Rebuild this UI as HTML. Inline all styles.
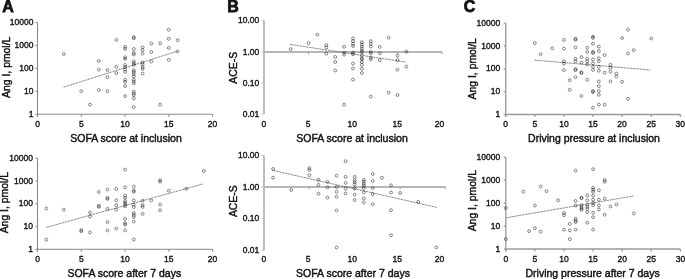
<!DOCTYPE html>
<html><head><meta charset="utf-8"><style>
html,body{margin:0;padding:0;background:#fff;width:685px;height:279px;overflow:hidden}
svg{display:block;will-change:transform;filter:blur(0.3px)}
text{font-family:"Liberation Sans", sans-serif;fill:#111}
circle{fill:none;stroke:#000;stroke-opacity:0.58;stroke-width:0.8}
</style></head><body>
<svg width="685" height="279" viewBox="0 0 685 279">
<line x1="37.50" y1="22.60" x2="37.50" y2="116.80" stroke="#8a8a8a" stroke-width="1.1"/>
<line x1="37.50" y1="114.30" x2="212.60" y2="114.30" stroke="#8a8a8a" stroke-width="1.1"/>
<line x1="35.50" y1="22.60" x2="37.50" y2="22.60" stroke="#8a8a8a" stroke-width="1.1"/>
<line x1="35.50" y1="45.52" x2="37.50" y2="45.52" stroke="#8a8a8a" stroke-width="1.1"/>
<line x1="35.50" y1="68.45" x2="37.50" y2="68.45" stroke="#8a8a8a" stroke-width="1.1"/>
<line x1="35.50" y1="91.38" x2="37.50" y2="91.38" stroke="#8a8a8a" stroke-width="1.1"/>
<line x1="35.50" y1="114.30" x2="37.50" y2="114.30" stroke="#8a8a8a" stroke-width="1.1"/>
<line x1="37.50" y1="114.30" x2="37.50" y2="116.80" stroke="#8a8a8a" stroke-width="1.1"/>
<line x1="81.28" y1="114.30" x2="81.28" y2="116.80" stroke="#8a8a8a" stroke-width="1.1"/>
<line x1="125.05" y1="114.30" x2="125.05" y2="116.80" stroke="#8a8a8a" stroke-width="1.1"/>
<line x1="168.83" y1="114.30" x2="168.83" y2="116.80" stroke="#8a8a8a" stroke-width="1.1"/>
<line x1="212.60" y1="114.30" x2="212.60" y2="116.80" stroke="#8a8a8a" stroke-width="1.1"/>
<text x="33.50" y="25.20" font-size="8.5" text-anchor="end" font-weight="normal" stroke="#111" stroke-width="0.36">10000</text>
<text x="33.50" y="48.12" font-size="8.5" text-anchor="end" font-weight="normal" stroke="#111" stroke-width="0.36">1000</text>
<text x="33.50" y="71.05" font-size="8.5" text-anchor="end" font-weight="normal" stroke="#111" stroke-width="0.36">100</text>
<text x="33.50" y="93.97" font-size="8.5" text-anchor="end" font-weight="normal" stroke="#111" stroke-width="0.36">10</text>
<text x="33.50" y="116.90" font-size="8.5" text-anchor="end" font-weight="normal" stroke="#111" stroke-width="0.36">1</text>
<text x="37.50" y="127.10" font-size="8.5" text-anchor="middle" font-weight="normal" stroke="#111" stroke-width="0.36">0</text>
<text x="81.28" y="127.10" font-size="8.5" text-anchor="middle" font-weight="normal" stroke="#111" stroke-width="0.36">5</text>
<text x="125.05" y="127.10" font-size="8.5" text-anchor="middle" font-weight="normal" stroke="#111" stroke-width="0.36">10</text>
<text x="168.83" y="127.10" font-size="8.5" text-anchor="middle" font-weight="normal" stroke="#111" stroke-width="0.36">15</text>
<text x="212.60" y="127.10" font-size="8.5" text-anchor="middle" font-weight="normal" stroke="#111" stroke-width="0.36">20</text>
<text x="126.00" y="142.20" font-size="10.5" text-anchor="middle" font-weight="normal" stroke="#111" stroke-width="0.42">SOFA score at inclusion</text>
<text transform="translate(9.8,67.30) rotate(-90)" font-size="10.4" text-anchor="middle" stroke="#111" stroke-width="0.42">Ang I, pmol/L</text>
<line x1="37.50" y1="158.20" x2="37.50" y2="251.80" stroke="#8a8a8a" stroke-width="1.1"/>
<line x1="37.50" y1="249.30" x2="212.60" y2="249.30" stroke="#8a8a8a" stroke-width="1.1"/>
<line x1="35.50" y1="158.20" x2="37.50" y2="158.20" stroke="#8a8a8a" stroke-width="1.1"/>
<line x1="35.50" y1="180.97" x2="37.50" y2="180.97" stroke="#8a8a8a" stroke-width="1.1"/>
<line x1="35.50" y1="203.75" x2="37.50" y2="203.75" stroke="#8a8a8a" stroke-width="1.1"/>
<line x1="35.50" y1="226.53" x2="37.50" y2="226.53" stroke="#8a8a8a" stroke-width="1.1"/>
<line x1="35.50" y1="249.30" x2="37.50" y2="249.30" stroke="#8a8a8a" stroke-width="1.1"/>
<line x1="37.50" y1="249.30" x2="37.50" y2="251.80" stroke="#8a8a8a" stroke-width="1.1"/>
<line x1="81.28" y1="249.30" x2="81.28" y2="251.80" stroke="#8a8a8a" stroke-width="1.1"/>
<line x1="125.05" y1="249.30" x2="125.05" y2="251.80" stroke="#8a8a8a" stroke-width="1.1"/>
<line x1="168.83" y1="249.30" x2="168.83" y2="251.80" stroke="#8a8a8a" stroke-width="1.1"/>
<line x1="212.60" y1="249.30" x2="212.60" y2="251.80" stroke="#8a8a8a" stroke-width="1.1"/>
<text x="33.00" y="160.80" font-size="8.5" text-anchor="end" font-weight="normal" stroke="#111" stroke-width="0.36">10000</text>
<text x="33.00" y="183.57" font-size="8.5" text-anchor="end" font-weight="normal" stroke="#111" stroke-width="0.36">1000</text>
<text x="33.00" y="206.35" font-size="8.5" text-anchor="end" font-weight="normal" stroke="#111" stroke-width="0.36">100</text>
<text x="33.00" y="229.12" font-size="8.5" text-anchor="end" font-weight="normal" stroke="#111" stroke-width="0.36">10</text>
<text x="33.00" y="251.90" font-size="8.5" text-anchor="end" font-weight="normal" stroke="#111" stroke-width="0.36">1</text>
<text x="37.50" y="261.80" font-size="8.5" text-anchor="middle" font-weight="normal" stroke="#111" stroke-width="0.36">0</text>
<text x="81.28" y="261.80" font-size="8.5" text-anchor="middle" font-weight="normal" stroke="#111" stroke-width="0.36">5</text>
<text x="125.05" y="261.80" font-size="8.5" text-anchor="middle" font-weight="normal" stroke="#111" stroke-width="0.36">10</text>
<text x="168.83" y="261.80" font-size="8.5" text-anchor="middle" font-weight="normal" stroke="#111" stroke-width="0.36">15</text>
<text x="212.60" y="261.80" font-size="8.5" text-anchor="middle" font-weight="normal" stroke="#111" stroke-width="0.36">20</text>
<text x="124.30" y="277.20" font-size="10.5" text-anchor="middle" font-weight="normal" stroke="#111" stroke-width="0.42">SOFA score after 7 days</text>
<text transform="translate(8.3,202.70) rotate(-90)" font-size="10.4" text-anchor="middle" stroke="#111" stroke-width="0.42">Ang I, pmol/L</text>
<line x1="264.00" y1="20.50" x2="264.00" y2="113.90" stroke="#bcbcbc" stroke-width="2"/>
<line x1="261.80" y1="20.50" x2="264.00" y2="20.50" stroke="#bcbcbc" stroke-width="1"/>
<line x1="261.80" y1="51.90" x2="264.00" y2="51.90" stroke="#bcbcbc" stroke-width="1"/>
<line x1="261.80" y1="83.10" x2="264.00" y2="83.10" stroke="#bcbcbc" stroke-width="1"/>
<line x1="261.80" y1="113.90" x2="264.00" y2="113.90" stroke="#bcbcbc" stroke-width="1"/>
<line x1="264.00" y1="51.90" x2="442.00" y2="51.90" stroke="#b6b6b6" stroke-width="2"/>
<line x1="308.50" y1="51.90" x2="308.50" y2="54.20" stroke="#999" stroke-width="0.9"/>
<line x1="353.00" y1="51.90" x2="353.00" y2="54.20" stroke="#999" stroke-width="0.9"/>
<line x1="397.50" y1="51.90" x2="397.50" y2="54.20" stroke="#999" stroke-width="0.9"/>
<line x1="442.00" y1="51.90" x2="442.00" y2="54.20" stroke="#999" stroke-width="0.9"/>
<text x="259.30" y="23.10" font-size="8.5" text-anchor="end" font-weight="normal" stroke="#111" stroke-width="0.36">10.00</text>
<text x="259.30" y="54.50" font-size="8.5" text-anchor="end" font-weight="normal" stroke="#111" stroke-width="0.36">1.00</text>
<text x="259.30" y="85.70" font-size="8.5" text-anchor="end" font-weight="normal" stroke="#111" stroke-width="0.36">0.10</text>
<text x="259.30" y="116.50" font-size="8.5" text-anchor="end" font-weight="normal" stroke="#111" stroke-width="0.36">0.01</text>
<text x="263.80" y="127.10" font-size="8.5" text-anchor="middle" font-weight="normal" stroke="#111" stroke-width="0.36">0</text>
<text x="308.10" y="127.10" font-size="8.5" text-anchor="middle" font-weight="normal" stroke="#111" stroke-width="0.36">5</text>
<text x="352.20" y="127.10" font-size="8.5" text-anchor="middle" font-weight="normal" stroke="#111" stroke-width="0.36">10</text>
<text x="397.20" y="127.10" font-size="8.5" text-anchor="middle" font-weight="normal" stroke="#111" stroke-width="0.36">15</text>
<text x="439.50" y="127.10" font-size="8.5" text-anchor="middle" font-weight="normal" stroke="#111" stroke-width="0.36">20</text>
<text x="352.00" y="142.20" font-size="10.5" text-anchor="middle" font-weight="normal" stroke="#111" stroke-width="0.42">SOFA score at inclusion</text>
<text transform="translate(237.0,67.80) rotate(-90)" font-size="10.4" text-anchor="middle" stroke="#111" stroke-width="0.42">ACE-S</text>
<line x1="264.00" y1="155.40" x2="264.00" y2="250.30" stroke="#bcbcbc" stroke-width="2"/>
<line x1="261.80" y1="155.40" x2="264.00" y2="155.40" stroke="#bcbcbc" stroke-width="1"/>
<line x1="261.80" y1="187.00" x2="264.00" y2="187.00" stroke="#bcbcbc" stroke-width="1"/>
<line x1="261.80" y1="218.60" x2="264.00" y2="218.60" stroke="#bcbcbc" stroke-width="1"/>
<line x1="261.80" y1="250.30" x2="264.00" y2="250.30" stroke="#bcbcbc" stroke-width="1"/>
<line x1="264.00" y1="187.00" x2="445.50" y2="187.00" stroke="#b6b6b6" stroke-width="2"/>
<line x1="309.35" y1="187.00" x2="309.35" y2="189.30" stroke="#999" stroke-width="0.9"/>
<line x1="354.70" y1="187.00" x2="354.70" y2="189.30" stroke="#999" stroke-width="0.9"/>
<line x1="400.05" y1="187.00" x2="400.05" y2="189.30" stroke="#999" stroke-width="0.9"/>
<line x1="445.40" y1="187.00" x2="445.40" y2="189.30" stroke="#999" stroke-width="0.9"/>
<text x="259.30" y="158.00" font-size="8.5" text-anchor="end" font-weight="normal" stroke="#111" stroke-width="0.36">10.00</text>
<text x="259.30" y="189.60" font-size="8.5" text-anchor="end" font-weight="normal" stroke="#111" stroke-width="0.36">1.00</text>
<text x="259.30" y="221.20" font-size="8.5" text-anchor="end" font-weight="normal" stroke="#111" stroke-width="0.36">0.10</text>
<text x="259.30" y="252.90" font-size="8.5" text-anchor="end" font-weight="normal" stroke="#111" stroke-width="0.36">0.01</text>
<text x="263.80" y="261.80" font-size="8.5" text-anchor="middle" font-weight="normal" stroke="#111" stroke-width="0.36">0</text>
<text x="308.10" y="261.80" font-size="8.5" text-anchor="middle" font-weight="normal" stroke="#111" stroke-width="0.36">5</text>
<text x="352.20" y="261.80" font-size="8.5" text-anchor="middle" font-weight="normal" stroke="#111" stroke-width="0.36">10</text>
<text x="397.20" y="261.80" font-size="8.5" text-anchor="middle" font-weight="normal" stroke="#111" stroke-width="0.36">15</text>
<text x="439.50" y="261.80" font-size="8.5" text-anchor="middle" font-weight="normal" stroke="#111" stroke-width="0.36">20</text>
<text x="353.00" y="277.20" font-size="10.5" text-anchor="middle" font-weight="normal" stroke="#111" stroke-width="0.42">SOFA score after 7 days</text>
<text transform="translate(237.0,201.20) rotate(-90)" font-size="10.4" text-anchor="middle" stroke="#111" stroke-width="0.42">ACE-S</text>
<line x1="505.70" y1="23.10" x2="505.70" y2="117.00" stroke="#9a9a9a" stroke-width="1.3"/>
<line x1="505.70" y1="114.50" x2="680.30" y2="114.50" stroke="#9a9a9a" stroke-width="1.3"/>
<line x1="503.70" y1="23.10" x2="505.70" y2="23.10" stroke="#9a9a9a" stroke-width="1.3"/>
<line x1="503.70" y1="45.95" x2="505.70" y2="45.95" stroke="#9a9a9a" stroke-width="1.3"/>
<line x1="503.70" y1="68.80" x2="505.70" y2="68.80" stroke="#9a9a9a" stroke-width="1.3"/>
<line x1="503.70" y1="91.65" x2="505.70" y2="91.65" stroke="#9a9a9a" stroke-width="1.3"/>
<line x1="503.70" y1="114.50" x2="505.70" y2="114.50" stroke="#9a9a9a" stroke-width="1.3"/>
<line x1="505.70" y1="114.50" x2="505.70" y2="117.00" stroke="#9a9a9a" stroke-width="1.3"/>
<line x1="534.80" y1="114.50" x2="534.80" y2="117.00" stroke="#9a9a9a" stroke-width="1.3"/>
<line x1="563.90" y1="114.50" x2="563.90" y2="117.00" stroke="#9a9a9a" stroke-width="1.3"/>
<line x1="593.00" y1="114.50" x2="593.00" y2="117.00" stroke="#9a9a9a" stroke-width="1.3"/>
<line x1="622.10" y1="114.50" x2="622.10" y2="117.00" stroke="#9a9a9a" stroke-width="1.3"/>
<line x1="651.20" y1="114.50" x2="651.20" y2="117.00" stroke="#9a9a9a" stroke-width="1.3"/>
<line x1="680.30" y1="114.50" x2="680.30" y2="117.00" stroke="#9a9a9a" stroke-width="1.3"/>
<text x="500.20" y="25.70" font-size="8.5" text-anchor="end" font-weight="normal" stroke="#111" stroke-width="0.36">10000</text>
<text x="500.20" y="48.55" font-size="8.5" text-anchor="end" font-weight="normal" stroke="#111" stroke-width="0.36">1000</text>
<text x="500.20" y="71.40" font-size="8.5" text-anchor="end" font-weight="normal" stroke="#111" stroke-width="0.36">100</text>
<text x="500.20" y="94.25" font-size="8.5" text-anchor="end" font-weight="normal" stroke="#111" stroke-width="0.36">10</text>
<text x="500.20" y="117.10" font-size="8.5" text-anchor="end" font-weight="normal" stroke="#111" stroke-width="0.36">1</text>
<text x="505.70" y="127.10" font-size="8.5" text-anchor="middle" font-weight="normal" stroke="#111" stroke-width="0.36">0</text>
<text x="534.80" y="127.10" font-size="8.5" text-anchor="middle" font-weight="normal" stroke="#111" stroke-width="0.36">5</text>
<text x="563.90" y="127.10" font-size="8.5" text-anchor="middle" font-weight="normal" stroke="#111" stroke-width="0.36">10</text>
<text x="593.00" y="127.10" font-size="8.5" text-anchor="middle" font-weight="normal" stroke="#111" stroke-width="0.36">15</text>
<text x="622.10" y="127.10" font-size="8.5" text-anchor="middle" font-weight="normal" stroke="#111" stroke-width="0.36">20</text>
<text x="651.20" y="127.10" font-size="8.5" text-anchor="middle" font-weight="normal" stroke="#111" stroke-width="0.36">25</text>
<text x="680.30" y="127.10" font-size="8.5" text-anchor="middle" font-weight="normal" stroke="#111" stroke-width="0.36">30</text>
<text x="594.00" y="142.20" font-size="10.5" text-anchor="middle" font-weight="normal" stroke="#111" stroke-width="0.42">Driving pressure at inclusion</text>
<text transform="translate(475.7,68.80) rotate(-90)" font-size="10.4" text-anchor="middle" stroke="#111" stroke-width="0.42">Ang I, pmol/L</text>
<line x1="505.80" y1="157.20" x2="505.80" y2="251.50" stroke="#9a9a9a" stroke-width="1.3"/>
<line x1="505.80" y1="249.00" x2="680.40" y2="249.00" stroke="#9a9a9a" stroke-width="1.3"/>
<line x1="503.80" y1="157.20" x2="505.80" y2="157.20" stroke="#9a9a9a" stroke-width="1.3"/>
<line x1="503.80" y1="180.15" x2="505.80" y2="180.15" stroke="#9a9a9a" stroke-width="1.3"/>
<line x1="503.80" y1="203.10" x2="505.80" y2="203.10" stroke="#9a9a9a" stroke-width="1.3"/>
<line x1="503.80" y1="226.05" x2="505.80" y2="226.05" stroke="#9a9a9a" stroke-width="1.3"/>
<line x1="503.80" y1="249.00" x2="505.80" y2="249.00" stroke="#9a9a9a" stroke-width="1.3"/>
<line x1="505.80" y1="249.00" x2="505.80" y2="251.50" stroke="#9a9a9a" stroke-width="1.3"/>
<line x1="534.90" y1="249.00" x2="534.90" y2="251.50" stroke="#9a9a9a" stroke-width="1.3"/>
<line x1="564.00" y1="249.00" x2="564.00" y2="251.50" stroke="#9a9a9a" stroke-width="1.3"/>
<line x1="593.10" y1="249.00" x2="593.10" y2="251.50" stroke="#9a9a9a" stroke-width="1.3"/>
<line x1="622.20" y1="249.00" x2="622.20" y2="251.50" stroke="#9a9a9a" stroke-width="1.3"/>
<line x1="651.30" y1="249.00" x2="651.30" y2="251.50" stroke="#9a9a9a" stroke-width="1.3"/>
<line x1="680.40" y1="249.00" x2="680.40" y2="251.50" stroke="#9a9a9a" stroke-width="1.3"/>
<text x="500.20" y="159.80" font-size="8.5" text-anchor="end" font-weight="normal" stroke="#111" stroke-width="0.36">10000</text>
<text x="500.20" y="182.75" font-size="8.5" text-anchor="end" font-weight="normal" stroke="#111" stroke-width="0.36">1000</text>
<text x="500.20" y="205.70" font-size="8.5" text-anchor="end" font-weight="normal" stroke="#111" stroke-width="0.36">100</text>
<text x="500.20" y="228.65" font-size="8.5" text-anchor="end" font-weight="normal" stroke="#111" stroke-width="0.36">10</text>
<text x="500.20" y="251.60" font-size="8.5" text-anchor="end" font-weight="normal" stroke="#111" stroke-width="0.36">1</text>
<text x="505.80" y="261.80" font-size="8.5" text-anchor="middle" font-weight="normal" stroke="#111" stroke-width="0.36">0</text>
<text x="534.90" y="261.80" font-size="8.5" text-anchor="middle" font-weight="normal" stroke="#111" stroke-width="0.36">5</text>
<text x="564.00" y="261.80" font-size="8.5" text-anchor="middle" font-weight="normal" stroke="#111" stroke-width="0.36">10</text>
<text x="593.10" y="261.80" font-size="8.5" text-anchor="middle" font-weight="normal" stroke="#111" stroke-width="0.36">15</text>
<text x="622.20" y="261.80" font-size="8.5" text-anchor="middle" font-weight="normal" stroke="#111" stroke-width="0.36">20</text>
<text x="651.30" y="261.80" font-size="8.5" text-anchor="middle" font-weight="normal" stroke="#111" stroke-width="0.36">25</text>
<text x="680.40" y="261.80" font-size="8.5" text-anchor="middle" font-weight="normal" stroke="#111" stroke-width="0.36">30</text>
<text x="592.60" y="277.20" font-size="10.5" text-anchor="middle" font-weight="normal" stroke="#111" stroke-width="0.42">Driving pressure after 7 days</text>
<text transform="translate(475.7,200.70) rotate(-90)" font-size="10.4" text-anchor="middle" stroke="#111" stroke-width="0.42">Ang I, pmol/L</text>
<line x1="63.5" y1="87.2" x2="177.5" y2="51.2" stroke="#6a6a6a" stroke-width="0.75" stroke-dasharray="2.6,0.6"/>
<circle cx="63.8" cy="54.0" r="1.45"/>
<circle cx="81.3" cy="91.2" r="1.45"/>
<circle cx="90.0" cy="104.6" r="1.45"/>
<circle cx="98.8" cy="61.0" r="1.45"/>
<circle cx="98.8" cy="69.6" r="1.45"/>
<circle cx="98.8" cy="90.0" r="1.45"/>
<circle cx="107.5" cy="70.1" r="1.45"/>
<circle cx="107.5" cy="77.1" r="1.45"/>
<circle cx="107.5" cy="91.2" r="1.45"/>
<circle cx="116.3" cy="39.9" r="1.45"/>
<circle cx="116.3" cy="66.8" r="1.45"/>
<circle cx="116.3" cy="73.1" r="1.45"/>
<circle cx="125.1" cy="46.9" r="1.45"/>
<circle cx="125.1" cy="48.9" r="1.45"/>
<circle cx="125.1" cy="57.3" r="1.45"/>
<circle cx="125.1" cy="58.9" r="1.45"/>
<circle cx="125.1" cy="64.9" r="1.45"/>
<circle cx="125.1" cy="67.0" r="1.45"/>
<circle cx="125.1" cy="69.5" r="1.45"/>
<circle cx="125.1" cy="71.8" r="1.45"/>
<circle cx="125.1" cy="79.8" r="1.45"/>
<circle cx="125.1" cy="81.9" r="1.45"/>
<circle cx="125.1" cy="86.1" r="1.45"/>
<circle cx="125.1" cy="96.1" r="1.45"/>
<circle cx="133.8" cy="37.1" r="1.45"/>
<circle cx="133.8" cy="38.3" r="1.45"/>
<circle cx="133.8" cy="48.9" r="1.45"/>
<circle cx="133.8" cy="52.8" r="1.45"/>
<circle cx="133.8" cy="54.5" r="1.45"/>
<circle cx="133.8" cy="61.5" r="1.45"/>
<circle cx="133.8" cy="63.2" r="1.45"/>
<circle cx="133.8" cy="64.9" r="1.45"/>
<circle cx="133.8" cy="70.2" r="1.45"/>
<circle cx="133.8" cy="72.0" r="1.45"/>
<circle cx="133.8" cy="74.1" r="1.45"/>
<circle cx="133.8" cy="76.3" r="1.45"/>
<circle cx="133.8" cy="79.6" r="1.45"/>
<circle cx="133.8" cy="81.5" r="1.45"/>
<circle cx="133.8" cy="83.3" r="1.45"/>
<circle cx="133.8" cy="91.6" r="1.45"/>
<circle cx="133.8" cy="93.4" r="1.45"/>
<circle cx="133.8" cy="95.1" r="1.45"/>
<circle cx="133.8" cy="98.4" r="1.45"/>
<circle cx="133.8" cy="107.1" r="1.45"/>
<circle cx="142.6" cy="47.3" r="1.45"/>
<circle cx="142.6" cy="50.0" r="1.45"/>
<circle cx="142.6" cy="53.5" r="1.45"/>
<circle cx="142.6" cy="62.5" r="1.45"/>
<circle cx="142.6" cy="64.3" r="1.45"/>
<circle cx="142.6" cy="67.2" r="1.45"/>
<circle cx="142.6" cy="68.9" r="1.45"/>
<circle cx="142.6" cy="73.5" r="1.45"/>
<circle cx="151.3" cy="43.6" r="1.45"/>
<circle cx="151.3" cy="51.9" r="1.45"/>
<circle cx="151.3" cy="61.6" r="1.45"/>
<circle cx="160.1" cy="43.2" r="1.45"/>
<circle cx="160.1" cy="104.6" r="1.45"/>
<circle cx="168.8" cy="29.7" r="1.45"/>
<circle cx="168.8" cy="38.8" r="1.45"/>
<circle cx="168.8" cy="47.9" r="1.45"/>
<circle cx="168.8" cy="59.8" r="1.45"/>
<circle cx="177.6" cy="40.2" r="1.45"/>
<circle cx="177.6" cy="51.5" r="1.45"/>
<line x1="46.2" y1="227.4" x2="203.6" y2="183.8" stroke="#6a6a6a" stroke-width="0.75" stroke-dasharray="2.6,0.6"/>
<circle cx="46.3" cy="208.5" r="1.45"/>
<circle cx="46.3" cy="239.6" r="1.45"/>
<circle cx="63.8" cy="209.7" r="1.45"/>
<circle cx="81.3" cy="230.1" r="1.45"/>
<circle cx="81.3" cy="231.3" r="1.45"/>
<circle cx="90.0" cy="212.5" r="1.45"/>
<circle cx="90.0" cy="216.4" r="1.45"/>
<circle cx="90.0" cy="232.4" r="1.45"/>
<circle cx="98.8" cy="192.0" r="1.45"/>
<circle cx="98.8" cy="205.8" r="1.45"/>
<circle cx="98.8" cy="206.8" r="1.45"/>
<circle cx="107.5" cy="189.5" r="1.45"/>
<circle cx="107.5" cy="197.9" r="1.45"/>
<circle cx="107.5" cy="198.9" r="1.45"/>
<circle cx="107.5" cy="208.8" r="1.45"/>
<circle cx="107.5" cy="222.1" r="1.45"/>
<circle cx="107.5" cy="230.4" r="1.45"/>
<circle cx="116.3" cy="189.0" r="1.45"/>
<circle cx="116.3" cy="200.4" r="1.45"/>
<circle cx="116.3" cy="205.1" r="1.45"/>
<circle cx="116.3" cy="209.7" r="1.45"/>
<circle cx="116.3" cy="228.5" r="1.45"/>
<circle cx="125.1" cy="169.6" r="1.45"/>
<circle cx="125.1" cy="187.3" r="1.45"/>
<circle cx="125.1" cy="195.7" r="1.45"/>
<circle cx="125.1" cy="197.9" r="1.45"/>
<circle cx="125.1" cy="201.2" r="1.45"/>
<circle cx="125.1" cy="202.9" r="1.45"/>
<circle cx="125.1" cy="204.6" r="1.45"/>
<circle cx="125.1" cy="206.3" r="1.45"/>
<circle cx="125.1" cy="218.9" r="1.45"/>
<circle cx="125.1" cy="223.1" r="1.45"/>
<circle cx="125.1" cy="224.6" r="1.45"/>
<circle cx="125.1" cy="230.4" r="1.45"/>
<circle cx="133.8" cy="186.6" r="1.45"/>
<circle cx="133.8" cy="190.6" r="1.45"/>
<circle cx="133.8" cy="191.8" r="1.45"/>
<circle cx="133.8" cy="200.4" r="1.45"/>
<circle cx="133.8" cy="204.6" r="1.45"/>
<circle cx="133.8" cy="207.1" r="1.45"/>
<circle cx="133.8" cy="213.0" r="1.45"/>
<circle cx="133.8" cy="214.9" r="1.45"/>
<circle cx="133.8" cy="217.1" r="1.45"/>
<circle cx="133.8" cy="221.5" r="1.45"/>
<circle cx="133.8" cy="239.6" r="1.45"/>
<circle cx="142.6" cy="200.7" r="1.45"/>
<circle cx="142.6" cy="205.1" r="1.45"/>
<circle cx="142.6" cy="206.9" r="1.45"/>
<circle cx="142.6" cy="213.9" r="1.45"/>
<circle cx="151.3" cy="200.4" r="1.45"/>
<circle cx="160.1" cy="180.3" r="1.45"/>
<circle cx="160.1" cy="181.6" r="1.45"/>
<circle cx="160.1" cy="204.6" r="1.45"/>
<circle cx="160.1" cy="210.2" r="1.45"/>
<circle cx="168.8" cy="190.7" r="1.45"/>
<circle cx="186.3" cy="188.7" r="1.45"/>
<circle cx="203.8" cy="171.0" r="1.45"/>
<line x1="290.1" y1="44.4" x2="405.7" y2="62.1" stroke="#6a6a6a" stroke-width="0.75" stroke-dasharray="2.6,0.6"/>
<circle cx="290.7" cy="49.1" r="1.45"/>
<circle cx="308.5" cy="43.1" r="1.45"/>
<circle cx="317.4" cy="34.6" r="1.45"/>
<circle cx="326.3" cy="45.2" r="1.45"/>
<circle cx="326.3" cy="47.5" r="1.45"/>
<circle cx="326.3" cy="53.7" r="1.45"/>
<circle cx="335.2" cy="57.0" r="1.45"/>
<circle cx="335.2" cy="62.0" r="1.45"/>
<circle cx="335.2" cy="70.5" r="1.45"/>
<circle cx="344.1" cy="46.8" r="1.45"/>
<circle cx="344.1" cy="52.6" r="1.45"/>
<circle cx="344.1" cy="54.6" r="1.45"/>
<circle cx="344.1" cy="104.6" r="1.45"/>
<circle cx="353.0" cy="38.4" r="1.45"/>
<circle cx="353.0" cy="41.1" r="1.45"/>
<circle cx="353.0" cy="43.8" r="1.45"/>
<circle cx="353.0" cy="46.0" r="1.45"/>
<circle cx="353.0" cy="52.6" r="1.45"/>
<circle cx="353.0" cy="54.1" r="1.45"/>
<circle cx="353.0" cy="63.6" r="1.45"/>
<circle cx="353.0" cy="68.4" r="1.45"/>
<circle cx="353.0" cy="79.6" r="1.45"/>
<circle cx="361.9" cy="42.2" r="1.45"/>
<circle cx="361.9" cy="44.4" r="1.45"/>
<circle cx="361.9" cy="46.5" r="1.45"/>
<circle cx="361.9" cy="48.7" r="1.45"/>
<circle cx="361.9" cy="50.8" r="1.45"/>
<circle cx="361.9" cy="52.4" r="1.45"/>
<circle cx="361.9" cy="55.6" r="1.45"/>
<circle cx="361.9" cy="58.3" r="1.45"/>
<circle cx="361.9" cy="59.4" r="1.45"/>
<circle cx="361.9" cy="62.1" r="1.45"/>
<circle cx="361.9" cy="64.8" r="1.45"/>
<circle cx="361.9" cy="68.8" r="1.45"/>
<circle cx="361.9" cy="73.0" r="1.45"/>
<circle cx="370.8" cy="41.1" r="1.45"/>
<circle cx="370.8" cy="43.8" r="1.45"/>
<circle cx="370.8" cy="46.5" r="1.45"/>
<circle cx="370.8" cy="51.9" r="1.45"/>
<circle cx="370.8" cy="53.5" r="1.45"/>
<circle cx="370.8" cy="57.8" r="1.45"/>
<circle cx="370.8" cy="59.4" r="1.45"/>
<circle cx="370.8" cy="96.6" r="1.45"/>
<circle cx="379.7" cy="46.9" r="1.45"/>
<circle cx="379.7" cy="53.3" r="1.45"/>
<circle cx="379.7" cy="60.1" r="1.45"/>
<circle cx="388.6" cy="37.7" r="1.45"/>
<circle cx="388.6" cy="92.6" r="1.45"/>
<circle cx="397.5" cy="55.7" r="1.45"/>
<circle cx="397.5" cy="60.1" r="1.45"/>
<circle cx="397.5" cy="69.7" r="1.45"/>
<circle cx="397.5" cy="95.0" r="1.45"/>
<circle cx="406.4" cy="51.6" r="1.45"/>
<circle cx="406.4" cy="66.6" r="1.45"/>
<line x1="272.4" y1="170.3" x2="436.8" y2="207.4" stroke="#6a6a6a" stroke-width="0.75" stroke-dasharray="2.6,0.6"/>
<circle cx="273.1" cy="169.0" r="1.45"/>
<circle cx="273.1" cy="177.7" r="1.45"/>
<circle cx="291.2" cy="189.9" r="1.45"/>
<circle cx="309.4" cy="168.1" r="1.45"/>
<circle cx="309.4" cy="170.1" r="1.45"/>
<circle cx="309.4" cy="175.2" r="1.45"/>
<circle cx="318.4" cy="179.7" r="1.45"/>
<circle cx="318.4" cy="184.8" r="1.45"/>
<circle cx="318.4" cy="193.7" r="1.45"/>
<circle cx="327.5" cy="181.9" r="1.45"/>
<circle cx="327.5" cy="187.3" r="1.45"/>
<circle cx="327.5" cy="197.6" r="1.45"/>
<circle cx="336.6" cy="175.7" r="1.45"/>
<circle cx="336.6" cy="187.0" r="1.45"/>
<circle cx="336.6" cy="191.7" r="1.45"/>
<circle cx="336.6" cy="196.7" r="1.45"/>
<circle cx="336.6" cy="210.5" r="1.45"/>
<circle cx="336.6" cy="247.4" r="1.45"/>
<circle cx="345.6" cy="161.2" r="1.45"/>
<circle cx="345.6" cy="176.9" r="1.45"/>
<circle cx="345.6" cy="182.9" r="1.45"/>
<circle cx="345.6" cy="188.7" r="1.45"/>
<circle cx="345.6" cy="193.4" r="1.45"/>
<circle cx="354.7" cy="176.9" r="1.45"/>
<circle cx="354.7" cy="180.3" r="1.45"/>
<circle cx="354.7" cy="182.3" r="1.45"/>
<circle cx="354.7" cy="184.3" r="1.45"/>
<circle cx="354.7" cy="188.5" r="1.45"/>
<circle cx="354.7" cy="194.6" r="1.45"/>
<circle cx="354.7" cy="200.1" r="1.45"/>
<circle cx="363.8" cy="179.9" r="1.45"/>
<circle cx="363.8" cy="181.8" r="1.45"/>
<circle cx="363.8" cy="183.8" r="1.45"/>
<circle cx="363.8" cy="185.8" r="1.45"/>
<circle cx="363.8" cy="188.1" r="1.45"/>
<circle cx="363.8" cy="192.3" r="1.45"/>
<circle cx="363.8" cy="198.4" r="1.45"/>
<circle cx="363.8" cy="202.4" r="1.45"/>
<circle cx="372.8" cy="174.0" r="1.45"/>
<circle cx="372.8" cy="181.1" r="1.45"/>
<circle cx="372.8" cy="188.2" r="1.45"/>
<circle cx="372.8" cy="194.1" r="1.45"/>
<circle cx="372.8" cy="204.2" r="1.45"/>
<circle cx="381.9" cy="177.7" r="1.45"/>
<circle cx="391.0" cy="185.3" r="1.45"/>
<circle cx="391.0" cy="192.5" r="1.45"/>
<circle cx="391.0" cy="210.2" r="1.45"/>
<circle cx="391.0" cy="235.2" r="1.45"/>
<circle cx="400.1" cy="193.0" r="1.45"/>
<circle cx="418.2" cy="201.9" r="1.45"/>
<circle cx="436.3" cy="247.4" r="1.45"/>
<line x1="534.3" y1="60.1" x2="650.5" y2="70.0" stroke="#6a6a6a" stroke-width="0.75" stroke-dasharray="2.6,0.6"/>
<circle cx="534.8" cy="43.1" r="1.45"/>
<circle cx="540.6" cy="54.2" r="1.45"/>
<circle cx="552.3" cy="48.3" r="1.45"/>
<circle cx="563.9" cy="39.9" r="1.45"/>
<circle cx="563.9" cy="48.6" r="1.45"/>
<circle cx="563.9" cy="61.3" r="1.45"/>
<circle cx="563.9" cy="63.5" r="1.45"/>
<circle cx="563.9" cy="70.1" r="1.45"/>
<circle cx="569.7" cy="80.2" r="1.45"/>
<circle cx="569.7" cy="89.8" r="1.45"/>
<circle cx="575.5" cy="38.7" r="1.45"/>
<circle cx="575.5" cy="39.9" r="1.45"/>
<circle cx="575.5" cy="47.4" r="1.45"/>
<circle cx="575.5" cy="58.7" r="1.45"/>
<circle cx="575.5" cy="61.2" r="1.45"/>
<circle cx="575.5" cy="69.1" r="1.45"/>
<circle cx="575.5" cy="70.1" r="1.45"/>
<circle cx="575.5" cy="77.2" r="1.45"/>
<circle cx="581.4" cy="57.1" r="1.45"/>
<circle cx="581.4" cy="62.7" r="1.45"/>
<circle cx="581.4" cy="72.1" r="1.45"/>
<circle cx="581.4" cy="73.1" r="1.45"/>
<circle cx="581.4" cy="95.9" r="1.45"/>
<circle cx="587.2" cy="47.8" r="1.45"/>
<circle cx="587.2" cy="52.0" r="1.45"/>
<circle cx="587.2" cy="58.7" r="1.45"/>
<circle cx="587.2" cy="61.5" r="1.45"/>
<circle cx="587.2" cy="64.3" r="1.45"/>
<circle cx="587.2" cy="79.7" r="1.45"/>
<circle cx="593.0" cy="36.7" r="1.45"/>
<circle cx="593.0" cy="37.8" r="1.45"/>
<circle cx="593.0" cy="43.6" r="1.45"/>
<circle cx="593.0" cy="51.9" r="1.45"/>
<circle cx="593.0" cy="53.0" r="1.45"/>
<circle cx="593.0" cy="59.5" r="1.45"/>
<circle cx="593.0" cy="63.4" r="1.45"/>
<circle cx="593.0" cy="66.7" r="1.45"/>
<circle cx="593.0" cy="69.9" r="1.45"/>
<circle cx="593.0" cy="91.0" r="1.45"/>
<circle cx="593.0" cy="92.1" r="1.45"/>
<circle cx="593.0" cy="107.7" r="1.45"/>
<circle cx="598.8" cy="46.6" r="1.45"/>
<circle cx="598.8" cy="51.1" r="1.45"/>
<circle cx="598.8" cy="58.3" r="1.45"/>
<circle cx="598.8" cy="61.3" r="1.45"/>
<circle cx="598.8" cy="66.7" r="1.45"/>
<circle cx="598.8" cy="70.8" r="1.45"/>
<circle cx="598.8" cy="81.4" r="1.45"/>
<circle cx="598.8" cy="86.1" r="1.45"/>
<circle cx="598.8" cy="91.0" r="1.45"/>
<circle cx="598.8" cy="94.7" r="1.45"/>
<circle cx="598.8" cy="104.7" r="1.45"/>
<circle cx="604.6" cy="55.1" r="1.45"/>
<circle cx="604.6" cy="72.6" r="1.45"/>
<circle cx="604.6" cy="104.7" r="1.45"/>
<circle cx="610.5" cy="64.7" r="1.45"/>
<circle cx="610.5" cy="67.8" r="1.45"/>
<circle cx="610.5" cy="71.7" r="1.45"/>
<circle cx="610.5" cy="81.4" r="1.45"/>
<circle cx="616.3" cy="73.5" r="1.45"/>
<circle cx="616.3" cy="76.4" r="1.45"/>
<circle cx="622.1" cy="38.0" r="1.45"/>
<circle cx="622.1" cy="81.8" r="1.45"/>
<circle cx="627.9" cy="29.7" r="1.45"/>
<circle cx="627.9" cy="53.4" r="1.45"/>
<circle cx="627.9" cy="98.8" r="1.45"/>
<circle cx="633.7" cy="50.1" r="1.45"/>
<circle cx="651.2" cy="38.5" r="1.45"/>
<line x1="505.9" y1="217.8" x2="633.6" y2="196.0" stroke="#6a6a6a" stroke-width="0.75" stroke-dasharray="2.6,0.6"/>
<circle cx="505.8" cy="208.0" r="1.45"/>
<circle cx="505.8" cy="239.1" r="1.45"/>
<circle cx="523.3" cy="191.7" r="1.45"/>
<circle cx="529.1" cy="231.1" r="1.45"/>
<circle cx="534.9" cy="205.5" r="1.45"/>
<circle cx="534.9" cy="228.2" r="1.45"/>
<circle cx="540.7" cy="186.5" r="1.45"/>
<circle cx="540.7" cy="231.7" r="1.45"/>
<circle cx="546.5" cy="191.2" r="1.45"/>
<circle cx="558.2" cy="200.3" r="1.45"/>
<circle cx="564.0" cy="213.0" r="1.45"/>
<circle cx="564.0" cy="215.2" r="1.45"/>
<circle cx="564.0" cy="229.7" r="1.45"/>
<circle cx="569.8" cy="224.0" r="1.45"/>
<circle cx="569.8" cy="230.4" r="1.45"/>
<circle cx="569.8" cy="239.1" r="1.45"/>
<circle cx="575.6" cy="170.6" r="1.45"/>
<circle cx="575.6" cy="200.9" r="1.45"/>
<circle cx="575.6" cy="205.5" r="1.45"/>
<circle cx="575.6" cy="218.7" r="1.45"/>
<circle cx="575.6" cy="220.6" r="1.45"/>
<circle cx="575.6" cy="222.0" r="1.45"/>
<circle cx="575.6" cy="229.7" r="1.45"/>
<circle cx="581.5" cy="197.5" r="1.45"/>
<circle cx="581.5" cy="198.1" r="1.45"/>
<circle cx="581.5" cy="205.1" r="1.45"/>
<circle cx="581.5" cy="207.1" r="1.45"/>
<circle cx="581.5" cy="208.8" r="1.45"/>
<circle cx="581.5" cy="209.7" r="1.45"/>
<circle cx="587.3" cy="195.5" r="1.45"/>
<circle cx="587.3" cy="200.4" r="1.45"/>
<circle cx="587.3" cy="204.6" r="1.45"/>
<circle cx="587.3" cy="206.8" r="1.45"/>
<circle cx="587.3" cy="209.0" r="1.45"/>
<circle cx="587.3" cy="212.2" r="1.45"/>
<circle cx="587.3" cy="222.7" r="1.45"/>
<circle cx="593.1" cy="169.2" r="1.45"/>
<circle cx="593.1" cy="187.9" r="1.45"/>
<circle cx="593.1" cy="189.8" r="1.45"/>
<circle cx="593.1" cy="191.8" r="1.45"/>
<circle cx="593.1" cy="195.7" r="1.45"/>
<circle cx="593.1" cy="199.7" r="1.45"/>
<circle cx="593.1" cy="202.9" r="1.45"/>
<circle cx="593.1" cy="205.1" r="1.45"/>
<circle cx="593.1" cy="212.7" r="1.45"/>
<circle cx="593.1" cy="217.2" r="1.45"/>
<circle cx="593.1" cy="229.6" r="1.45"/>
<circle cx="598.9" cy="190.3" r="1.45"/>
<circle cx="598.9" cy="199.7" r="1.45"/>
<circle cx="598.9" cy="205.6" r="1.45"/>
<circle cx="598.9" cy="209.5" r="1.45"/>
<circle cx="604.7" cy="179.9" r="1.45"/>
<circle cx="604.7" cy="181.8" r="1.45"/>
<circle cx="604.7" cy="198.5" r="1.45"/>
<circle cx="604.7" cy="214.7" r="1.45"/>
<circle cx="610.6" cy="206.5" r="1.45"/>
<circle cx="616.4" cy="204.5" r="1.45"/>
<circle cx="633.8" cy="213.5" r="1.45"/>
<text x="2.30" y="11.80" font-size="16" text-anchor="start" font-weight="bold" stroke="#111" stroke-width="0.75">A</text>
<text x="227.30" y="11.80" font-size="16" text-anchor="start" font-weight="bold" stroke="#111" stroke-width="0.75">B</text>
<text x="463.80" y="11.80" font-size="16" text-anchor="start" font-weight="bold" stroke="#111" stroke-width="0.75">C</text>
</svg>
</body></html>
